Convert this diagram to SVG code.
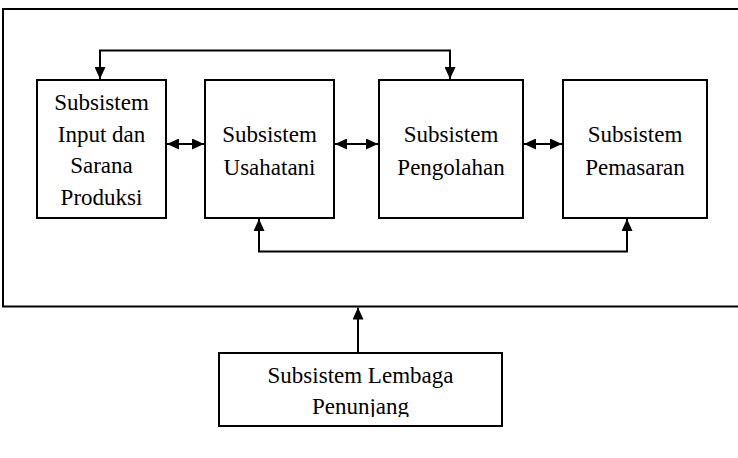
<svg xmlns="http://www.w3.org/2000/svg" width="738" height="458" viewBox="0 0 738 458">
<style>
.box{fill:#fff;stroke:#000;stroke-width:2}
.ln{fill:none;stroke:#000;stroke-width:2}
text{font-family:"Liberation Serif","Times New Roman",serif;font-size:23px;fill:#000;text-anchor:middle}
</style>
<defs>
<marker id="ah" viewBox="0 0 12 11" refX="12" refY="5.5" markerWidth="6" markerHeight="5.5" orient="auto-start-reverse" markerUnits="strokeWidth">
<path d="M0,0 L12,5.5 L0,11 Z" fill="#000"/>
</marker>
<clipPath id="cp"><rect x="219" y="353" width="283" height="64"/></clipPath>
</defs>
<rect width="738" height="458" fill="#fff"/>
<g id="frame">
<path class="ln" d="M740,9 H3 V306.5 H740"/>
</g>
<g id="connectors">
<path class="ln" d="M100,79 V50.5 H450 V79" marker-start="url(#ah)" marker-end="url(#ah)"/>
<path class="ln" d="M259,219 V251.5 H627 V219" marker-start="url(#ah)" marker-end="url(#ah)"/>
<path class="ln" d="M167,144 H204" marker-start="url(#ah)" marker-end="url(#ah)"/>
<path class="ln" d="M335,144 H378" marker-start="url(#ah)" marker-end="url(#ah)"/>
<path class="ln" d="M524,144 H562" marker-start="url(#ah)" marker-end="url(#ah)"/>
<path class="ln" d="M358,352 V307.5" marker-end="url(#ah)"/>
</g>
<g id="n1">
<rect class="box" x="37" y="80" width="129" height="138"/>
<text x="101.5" y="110">Subsistem</text>
<text x="101.5" y="142">Input dan</text>
<text x="101.5" y="173">Sarana</text>
<text x="101.5" y="205">Produksi</text>
</g>
<g id="n2">
<rect class="box" x="205" y="80" width="129" height="138"/>
<text x="269.5" y="142">Subsistem</text>
<text x="269.5" y="175">Usahatani</text>
</g>
<g id="n3">
<rect class="box" x="379" y="80" width="144" height="138"/>
<text x="451" y="142">Subsistem</text>
<text x="451" y="175">Pengolahan</text>
</g>
<g id="n4">
<rect class="box" x="563" y="80" width="144" height="138"/>
<text x="635" y="142">Subsistem</text>
<text x="635" y="175">Pemasaran</text>
</g>
<g id="n5">
<rect class="box" x="219" y="353" width="283" height="73"/>
<g clip-path="url(#cp)">
<text x="360.5" y="383">Subsistem Lembaga</text>
<text x="360.5" y="414">Penunjang</text>
</g>
</g>
</svg>
